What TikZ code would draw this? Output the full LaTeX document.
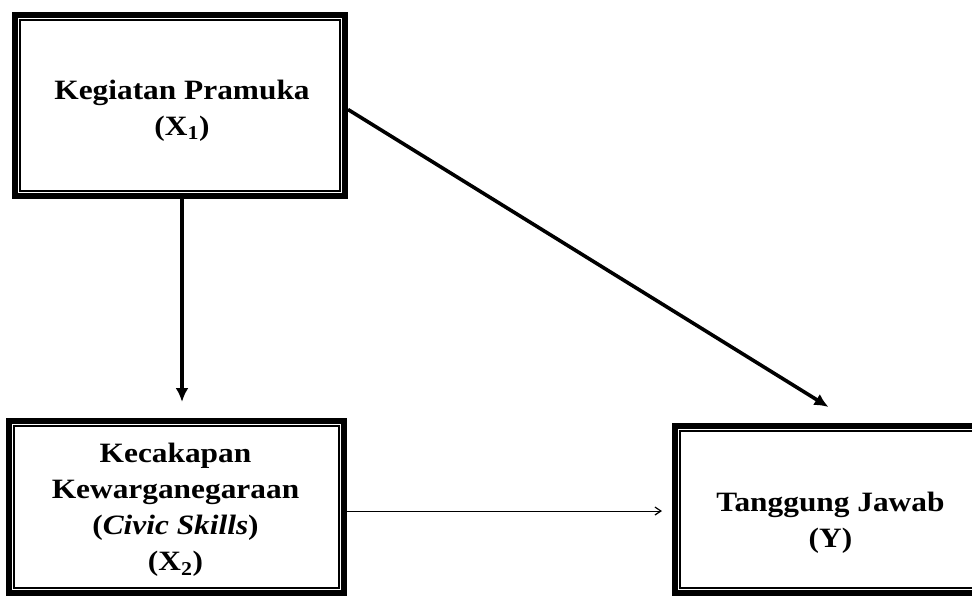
\documentclass[tikz,border=0pt]{standalone}
\usepackage{fontspec}
\setmainfont{Liberation Serif}[BoldFeatures={FakeStretch=1.12},BoldItalicFeatures={FakeStretch=1.12}]
\usetikzlibrary{arrows.meta,calc}
\tikzset{
  box/.style={draw=black, line width=6pt, inner sep=0pt},
  boxtext/.style={align=center, inner sep=0pt, font=\fontsize{28}{36}\selectfont\bfseries},
  innerframe/.style={draw=black, line width=1.5pt},
  thickarrow/.style={line width=3.6pt, -{Latex[length=14pt,width=13pt]}},
  thinarrow/.style={line width=0.9pt, -{Straight Barb[length=6pt,width=8pt,line width=1.2pt]}}
}
\begin{document}
\begin{tikzpicture}[x=1pt,y=-1pt]
\useasboundingbox (0,0) rectangle (972,600);
\begin{scope}
\clip (0,0) rectangle (972,600);
\node[box, minimum width=330pt, minimum height=181pt] (k1) at (180,105.5) {};
\node[box, minimum width=335pt, minimum height=172pt] (k2) at (176.5,507) {};
\node[box, minimum width=311pt, minimum height=167pt] (k3) at (830.5,509.5) {};
\foreach \n in {k1,k2,k3}{
  \draw[innerframe] ($(\n.north west)+(8pt,-8pt)$) rectangle ($(\n.south east)+(-8pt,8pt)$);
}
\end{scope}
\node[boxtext] (t1) at ([xshift=2pt,yshift=-5pt]k1.center) {Kegiatan Pramuka\\(X\textsubscript{1})};
\node[boxtext] (t2) at ([xshift=-1pt,yshift=-3pt]k2.center) {Kecakapan\\Kewarganegaraan\\(\textit{Civic Skills})\\(X\textsubscript{2})};
\node[boxtext] (t3) at ([xshift=0pt,yshift=-13pt]k3.center) {Tanggung Jawab\\(Y)};
\draw[thickarrow, shorten >=16pt] ([xshift=2pt]k1.south) -- ([xshift=2pt]k1.south |- k2.north);
\draw[thickarrow] ([yshift=-4pt]k1.east) -- ($(k3.north)+(-2pt,16pt)$);
\draw[thinarrow, shorten >=10pt] ([yshift=-4pt]k2.east) -- ([yshift=-4pt]k2.east -| k3.west);
\end{tikzpicture}
\end{document}
